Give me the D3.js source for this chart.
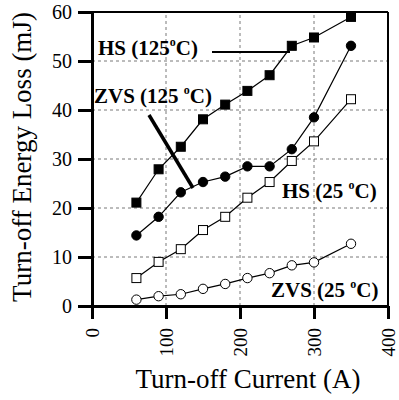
<!DOCTYPE html>
<html>
<head>
<meta charset="utf-8">
<script src="https://cdn.jsdelivr.net/npm/d3@7"></script>
<style>
  body { margin: 0; background: #fff; }
  svg text { font-family: "Liberation Serif"; fill: #000; }
</style>
</head>
<body>
<svg id="chart" width="399" height="400"></svg>
<script>
// turn-off current (A)
const current = [60, 90, 120, 150, 180, 210, 240, 270, 300, 350];
// energy loss (mJ)
const hs125  = [21.1, 27.9, 32.5, 38.1, 41.1, 43.9, 47.1, 53.1, 54.8, 59.0];
const zvs125 = [14.4, 18.2, 23.2, 25.3, 26.4, 28.5, 28.5, 32.0, 38.5, 53.1];
const hs25   = [5.7, 9.0, 11.6, 15.5, 18.2, 22.1, 25.3, 29.6, 33.6, 42.2];
const zvs25  = [1.3, 2.0, 2.4, 3.5, 4.5, 5.7, 6.7, 8.3, 8.9, 12.7];
const xTicks = [0, 100, 200, 300, 400];
const yTicks = [0, 10, 20, 30, 40, 50, 60];

const serif = '"Liberation Serif"';

let svg = d3.select("#chart");
let x = d3.scaleLinear().domain([0, 400]).range([92, 388]);
let y = d3.scaleLinear().domain([0, 60]).range([306, 12]);

// grid
let grid = svg.append("g").attr("stroke", "#555").attr("stroke-width", 0.8)
  .attr("stroke-dasharray", "3,3");
grid.selectAll("line.gx").data([100, 200, 300]).enter().append("line")
  .attr("x1", d => x(d)).attr("x2", d => x(d)).attr("y1", y(0)).attr("y2", y(60));
grid.selectAll("line.gy").data([10, 20, 30, 40, 50]).enter().append("line")
  .attr("x1", x(0)).attr("x2", x(400)).attr("y1", d => y(d)).attr("y2", d => y(d));

// frame
svg.append("line").attr("x1", x(0)).attr("x2", x(400)).attr("y1", y(60)).attr("y2", y(60))
  .attr("stroke", "#000").attr("stroke-width", 2);
svg.append("line").attr("x1", x(400)).attr("x2", x(400)).attr("y1", y(0)).attr("y2", y(60))
  .attr("stroke", "#000").attr("stroke-width", 2);

// axes
let yAxis = d3.axisLeft(y).tickValues(yTicks).tickSize(14).tickPadding(6);
let gy = svg.append("g").attr("transform", "translate(" + x(0) + ",0)").call(yAxis)
  .attr("font-family", serif);
gy.select(".domain").attr("stroke-width", 3);
gy.selectAll(".tick line").attr("stroke-width", 3);
gy.selectAll(".tick text").style("font-size", "20px").style("font-family", serif);

let xAxis = d3.axisBottom(x).tickValues(xTicks).tickSize(13).tickSizeOuter(0);
let gx = svg.append("g").attr("transform", "translate(0," + y(0) + ")").call(xAxis)
  .attr("font-family", serif);
gx.select(".domain").attr("stroke-width", 3);
gx.selectAll(".tick line").attr("stroke-width", 3);
gx.selectAll(".tick text")
  .style("font-size", "19px").style("font-family", serif)
  .attr("transform", "rotate(-90)")
  .attr("text-anchor", "end")
  .attr("x", -22).attr("y", 0).attr("dy", "0.35em");

// axis titles
svg.append("text").attr("x", 248).attr("y", 388).attr("text-anchor", "middle")
  .style("font-family", serif).style("font-size", "27px").text("Turn-off Current (A)");
svg.append("text").attr("transform", "translate(31,157) rotate(-90)")
  .attr("text-anchor", "middle").style("font-family", serif).style("font-size", "27px")
  .text("Turn-off Energy Loss (mJ)");

// series
let line = d3.line().x((d, i) => x(current[i])).y(d => y(d));
[hs125, zvs125, hs25, zvs25].forEach(s => {
  svg.append("path").datum(s).attr("d", line)
    .attr("fill", "none").attr("stroke", "#000").attr("stroke-width", 1.2);
});

function squares(data, fill) {
  svg.append("g").selectAll("rect").data(data).enter().append("rect")
    .attr("x", (d, i) => x(current[i]) - 4.5).attr("y", d => y(d) - 4.5)
    .attr("width", 9).attr("height", 9)
    .attr("fill", fill).attr("stroke", "#000").attr("stroke-width", 1);
}
function circles(data, fill) {
  svg.append("g").selectAll("circle").data(data).enter().append("circle")
    .attr("cx", (d, i) => x(current[i])).attr("cy", d => y(d)).attr("r", 4.7)
    .attr("fill", fill).attr("stroke", "#000").attr("stroke-width", 1);
}
squares(hs125, "#000");
circles(zvs125, "#000");
squares(hs25, "#fff");
circles(zvs25, "#fff");

// annotations
function label(px, py, pre) {
  let t = svg.append("text").attr("x", px).attr("y", py)
    .style("font-family", serif).style("font-size", "21px").style("font-weight", "bold");
  t.append("tspan").text(pre);
  t.append("tspan").attr("dy", -9).style("font-size", "12px").text("o");
  t.append("tspan").attr("dy", 9).text("C)");
}
label(98, 55, "HS (125");
label(94, 103, "ZVS (125 ");
label(282, 198, "HS (25 ");
label(271, 297, "ZVS (25 ");

svg.append("line").attr("x1", 212).attr("x2", 290).attr("y1", 52).attr("y2", 52)
  .attr("stroke", "#000").attr("stroke-width", 2);
svg.append("line").attr("x1", 149).attr("x2", 193).attr("y1", 115).attr("y2", 188)
  .attr("stroke", "#000").attr("stroke-width", 3.5);
</script>
</body>
</html>
